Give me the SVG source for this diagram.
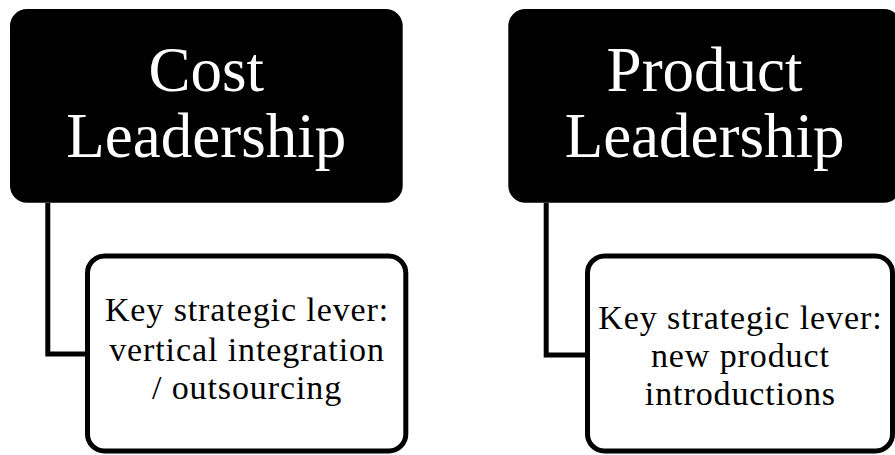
<svg xmlns="http://www.w3.org/2000/svg" width="895" height="455" viewBox="0 0 895 455">
  <style>
    .head rect { fill: #000; }
    .head text { fill: #fff; font-family: "Liberation Serif", "Times New Roman", serif; font-size: 63px; text-anchor: middle; }
    .lever rect { fill: #fff; stroke: #000; stroke-width: 5; }
    .lever text { fill: #000; font-family: "Liberation Serif", "Times New Roman", serif; font-size: 34px; letter-spacing: 0.9px; text-anchor: middle; }
    .links path { fill: none; stroke: #000; stroke-width: 5; }
  </style>
  <rect width="895" height="455" fill="#fff"/>

  <!-- elbow connectors from each heading to its lever box -->
  <g id="connectors" class="links">
    <path d="M47.8 203 V354 H88"/>
    <path d="M546.2 203 V355 H588"/>
  </g>

  <g id="cost-leadership" class="head">
    <rect x="10" y="9" width="392.7" height="193.7" rx="17"/>
    <text x="206.3" y="91">Cost</text>
    <text x="206.3" y="157">Leadership</text>
  </g>

  <g id="product-leadership" class="head">
    <rect x="508.3" y="9" width="392.7" height="193.7" rx="17"/>
    <text x="704.6" y="91">Product</text>
    <text x="704.6" y="157">Leadership</text>
  </g>

  <g id="cost-lever" class="lever">
    <rect x="87.5" y="256" width="318.3" height="195" rx="17"/>
    <text x="247" y="321">Key strategic lever:</text>
    <text x="247" y="361">vertical integration</text>
    <text x="247" y="399">/ outsourcing</text>
  </g>

  <g id="product-lever" class="lever">
    <rect x="587.5" y="256" width="305" height="195" rx="17"/>
    <text x="740.4" y="329">Key strategic lever:</text>
    <text x="740.4" y="367">new product</text>
    <text x="740.4" y="405">introductions</text>
  </g>
</svg>
